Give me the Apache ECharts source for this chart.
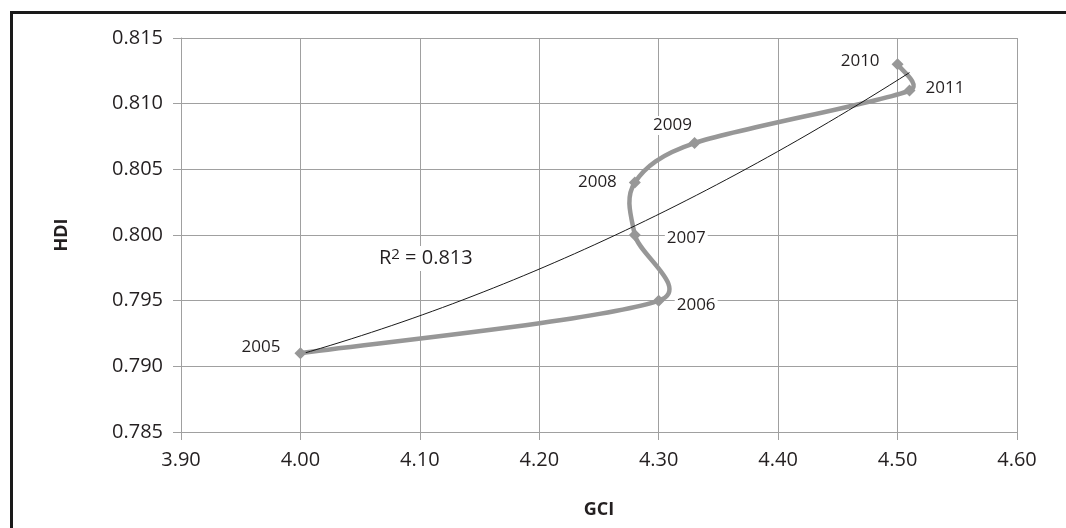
<!DOCTYPE html>
<html>
<head>
<meta charset="utf-8">
<script src="https://cdn.jsdelivr.net/npm/echarts@6/dist/echarts.min.js"></script>
<style>
  html, body { margin: 0; padding: 0; background: #fff; }
  #chart { width: 1066px; height: 528px; }
  #frame { position: absolute; left: 10px; top: 11px; width: 1080px; height: 540px;
           border-left: 3px solid #1a1a1a; border-top: 3px solid #1a1a1a; pointer-events: none; }
</style>
</head>
<body>
<div id="chart"></div>
<div id="frame"></div>
<script>
// ---- data, in the order the connecting line visits them ----
// (the drawn curve reaches the lower-right point before the upper-left one)
const years = ['2005', '2006', '2007', '2008', '2009', '2011', '2010'];
const gci   = [4.00, 4.30, 4.28, 4.28, 4.33, 4.51, 4.50];
const hdi   = [0.791, 0.795, 0.800, 0.804, 0.807, 0.811, 0.813];
const xTicks = [3.90, 4.00, 4.10, 4.20, 4.30, 4.40, 4.50, 4.60];
const yTicks = [0.785, 0.790, 0.795, 0.800, 0.805, 0.810, 0.815];
const r2Text = '0.813';

// label placement per year (style only)
const labelPlace = {
  '2005': { position: 'left',  distance: 12, offset: [0, -6] },
  '2006': { position: 'right', distance: 10, offset: [0, 4] },
  '2007': { position: 'right', distance: 24, offset: [0, 3] },
  '2008': { position: 'left',  distance: 10, offset: [0, 0] },
  '2009': { position: 'top',   distance: 2,  offset: [-22, 0] },
  '2010': { position: 'left',  distance: 10, offset: [0, -3] },
  '2011': { position: 'right', distance: 8,  offset: [0, -2] }
};

// second-order polynomial trendline (least squares from the data)
function polyFit2(xs, ys) {
  const n = xs.length, x0 = 4.3;
  let S = [0,0,0,0,0], T = [0,0,0];
  for (let i = 0; i < n; i++) {
    const u = xs[i] - x0;
    for (let k = 0; k < 5; k++) S[k] += Math.pow(u, k);
    for (let k = 0; k < 3; k++) T[k] += ys[i] * Math.pow(u, k);
  }
  const M = [[S[0],S[1],S[2],T[0]],[S[1],S[2],S[3],T[1]],[S[2],S[3],S[4],T[2]]];
  for (let c = 0; c < 3; c++) {
    for (let r = c + 1; r < 3; r++) {
      const f = M[r][c] / M[c][c];
      for (let k = c; k < 4; k++) M[r][k] -= f * M[c][k];
    }
  }
  const co = [0,0,0];
  for (let r = 2; r >= 0; r--) {
    let s = M[r][3];
    for (let k = r + 1; k < 3; k++) s -= M[r][k] * co[k];
    co[r] = s / M[r][r];
  }
  return x => { const u = x - x0; return co[0] + co[1]*u + co[2]*u*u; };
}
const trendFn = polyFit2(gci, hdi);
const xMinData = Math.min(...gci), xMaxData = Math.max(...gci);
const trendData = [];
for (let i = 0; i <= 60; i++) {
  const x = xMinData + (xMaxData - xMinData) * i / 60;
  trendData.push([x, trendFn(x)]);
}

const pointData = years.map((y, i) => ({
  value: [gci[i], hdi[i]],
  label: Object.assign({ show: true, formatter: y }, labelPlace[y])
}));
const segData = years.map((y, i) => [gci[i], hdi[i]]);

// smoothed connector (Excel-style bezier) drawn through the axis scales
function renderSegment(params, api) {
  const i = params.dataIndex, n = gci.length;
  if (i >= n - 1) return null;
  const P = k => {
    const kk = Math.max(0, Math.min(n - 1, k));
    return api.coord([gci[kk], hdi[kk]]);
  };
  const p0 = P(i - 1), p1 = P(i), p2 = P(i + 1), p3 = P(i + 2);
  const chord = Math.hypot(p2[0] - p1[0], p2[1] - p1[1]);
  const ctl = (a, b) => {
    let vx = (b[0] - a[0]) / 6, vy = (b[1] - a[1]) / 6;
    const len = Math.hypot(vx, vy), cap = chord * 0.5;
    if (len > cap && len > 0) { vx *= cap / len; vy *= cap / len; }
    return [vx, vy];
  };
  const t1 = ctl(p0, p2), t2 = ctl(p1, p3);
  return {
    type: 'bezierCurve',
    shape: {
      x1: p1[0], y1: p1[1], x2: p2[0], y2: p2[1],
      cpx1: p1[0] + t1[0], cpy1: p1[1] + t1[1],
      cpx2: p2[0] - t2[0], cpy2: p2[1] - t2[1]
    },
    style: { stroke: '#979797', lineWidth: 4.5, fill: null, lineCap: 'round' }
  };
}

const txt = '#231f20';
const gridCol = '#a0a0a0';
const chart = echarts.init(document.getElementById('chart'));
chart.setOption({
  backgroundColor: '#ffffff',
  animation: false,
  textStyle: { fontFamily: 'Open Sans' },
  grid: { left: 181, right: 49, top: 38, bottom: 96 },
  xAxis: {
    type: 'value', min: xTicks[0], max: xTicks[xTicks.length - 1], interval: 0.1,
    name: 'GCI', nameLocation: 'middle', nameGap: 69,
    nameTextStyle: { fontSize: 18, fontWeight: 'bold', color: txt, fontFamily: 'Open Sans' },
    axisLine: { show: true, lineStyle: { color: gridCol, width: 1 } },
    axisTick: { show: true, length: 8, lineStyle: { color: gridCol } },
    axisLabel: { fontSize: 20, color: txt, margin: 18, formatter: v => v.toFixed(2) },
    splitLine: { show: true, lineStyle: { color: gridCol, width: 1 } }
  },
  yAxis: {
    type: 'value', min: yTicks[0], max: yTicks[yTicks.length - 1], interval: 0.005,
    name: 'HDI', nameLocation: 'middle', nameGap: 110, nameRotate: 90,
    nameTextStyle: { fontSize: 18, fontWeight: 'bold', color: txt, fontFamily: 'Open Sans' },
    axisLine: { show: true, lineStyle: { color: gridCol, width: 1 } },
    axisTick: { show: true, length: 8, lineStyle: { color: gridCol } },
    axisLabel: { fontSize: 20, color: txt, margin: 18, formatter: v => v.toFixed(3) },
    splitLine: { show: true, lineStyle: { color: gridCol, width: 1 } }
  },
  series: [
    {
      type: 'custom', name: 'path', data: segData, renderItem: renderSegment,
      encode: { x: 0, y: 1 }, z: 2, silent: true, clip: false
    },
    {
      type: 'line', name: 'trend', data: trendData, showSymbol: false, symbol: 'none',
      lineStyle: { color: '#1a1a1a', width: 1 }, z: 3, silent: true
    },
    {
      type: 'scatter', name: 'HDI vs GCI', data: pointData,
      symbol: 'diamond', symbolSize: 12,
      itemStyle: { color: '#979797', opacity: 1 },
      label: { fontSize: 17, color: txt, fontFamily: 'Open Sans', opacity: 1,
               backgroundColor: '#ffffff', padding: [1, 2] },
      z: 4
    }
  ],
  graphic: [{
    type: 'text', left: 377, top: 246, z: 10,
    style: {
      text: 'R{s|2} = ' + r2Text,
      fill: txt, fontSize: 20, fontFamily: 'Open Sans',
      backgroundColor: '#ffffff', padding: [1, 2],
      rich: { s: { fontSize: 15, fill: txt, fontFamily: 'Open Sans', verticalAlign: 'top', padding: [0, 0, 8, 0] } }
    }
  }]
});
</script>
</body>
</html>
